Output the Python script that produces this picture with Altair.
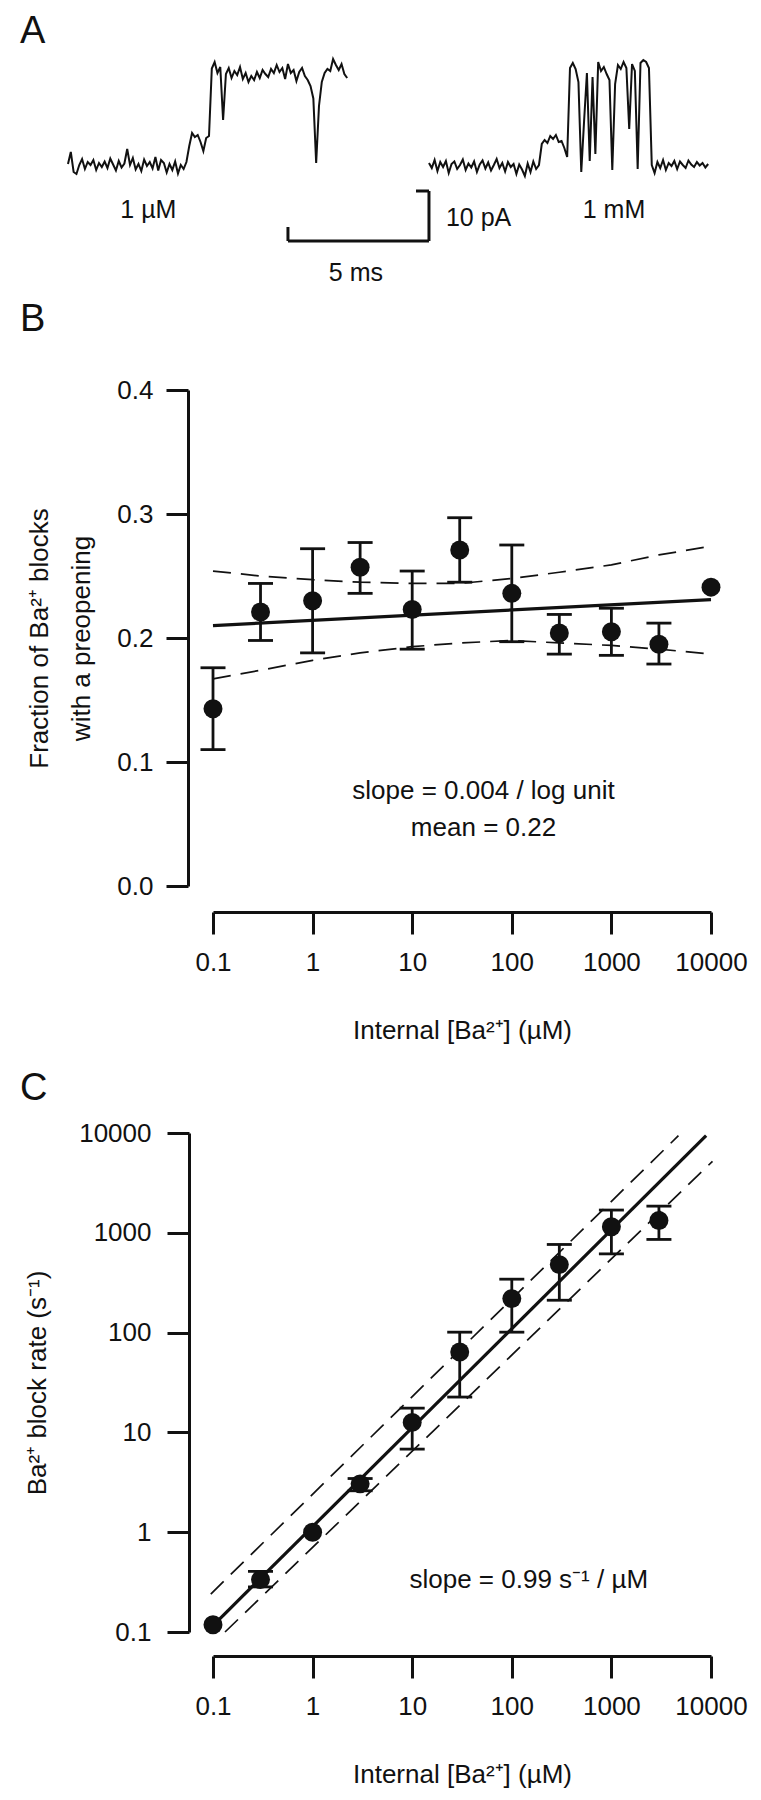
import altair as alt
import pandas as pd

FONT = "Liberation Sans"
INK = "#111111"

# ---------------------------------------------------------------- panel A data
# single-channel current (pA), one sample every 0.1 ms
SAMPLE_MS = 0.1
trace_1um = [
    0.4, 2.8, -1.2, -1.6, 0.2, 1.4, -0.6, 0.8, 0.2, 1.2,
    -0.8, 0.6, -0.2, 0.9, -0.4, 1.5, 0.3, -0.9, 1.0, -0.3,
    0.5, 3.4, 0.2, 1.6, -0.7, 0.4, -1.0, 1.3, 0.0, 0.8,
    -0.5, 1.8, -0.9, 1.2, 0.6, -1.3, 0.4, -0.8, 0.9, -1.5,
    0.2, -0.6, 0.8, 4.0, 6.6, 5.8, 6.2, 4.8, 3.0, 5.6,
    6.0, 19.5, 20.8, 18.6, 19.8, 9.2, 18.4, 19.6, 17.6, 19.0,
    18.2, 19.8, 17.4, 18.6, 16.8, 18.0, 17.2, 18.8, 17.6, 19.2,
    18.4, 17.8, 19.4, 18.6, 20.2, 18.8, 19.6, 17.4, 20.4, 18.6,
    19.2, 17.0, 18.8, 19.6, 18.0, 17.2, 16.0, 13.5, 0.6, 12.0,
    16.8, 18.6, 19.4, 19.0, 21.4, 20.2, 19.2, 20.4, 18.4, 17.6,
]
trace_1mm = [
    0.6, -0.4, 1.2, -1.0, 0.8, -0.2, 1.0, -1.4, 0.4, 0.9,
    -0.6, 0.2, 1.3, -0.8, 0.5, -0.3, 0.9, -1.2, 0.3, 1.1,
    -0.5, 0.7, -0.9, 0.2, 1.4, -0.4, 0.6, -1.1, 0.8, -0.2,
    0.4, -1.6, 0.3, -0.7, -2.0, 0.5, -1.2, 0.9, -0.6, 0.2,
    4.4, 5.2, 4.6, 6.0, 5.4, 6.2, 4.8, 5.0, 3.6, 1.8,
    19.6, 20.6, 19.4, 16.8, -1.2, 9.0, 18.6, 1.0, 17.8, 2.4,
    20.8, 19.0, 19.8, 18.4, 17.2, -0.8, 16.4, 20.2, 19.4, 20.8,
    19.6, 7.4, 20.4, 19.0, -0.6, 20.6, 21.2, 20.8, 19.6, 0.2,
    -1.4, 0.8, -0.4, 1.2, -0.8, 0.6, 0.0, 1.0, -0.6, 0.9,
    0.2, -0.4, 1.1, 0.3, -0.2, 0.8, 0.1, 0.6, -0.3, 0.4,
]
trace_names = ["1 µM", "1 mM"]
TRACE_1MM_START_MS = 12.8

# scale bar (5 ms, 10 pA), left end and bottom of the bar
BAR_MS = 5
BAR_PA = 10
BAR_T0 = 7.8
BAR_Y0 = -15.0

# ---------------------------------------------------------------- panel B data
conc_b = [0.1, 0.3, 1, 3, 10, 30, 100, 300, 1000, 3000, 10000]
frac_b = [0.143, 0.221, 0.230, 0.257, 0.223, 0.271, 0.236, 0.204, 0.205, 0.195, 0.241]
err_conc_b = [0.1, 0.3, 1, 3, 10, 30, 100, 300, 1000, 3000]
frac_lo = [0.110, 0.198, 0.188, 0.236, 0.191, 0.245, 0.197, 0.187, 0.186, 0.179]
frac_hi = [0.176, 0.244, 0.272, 0.277, 0.254, 0.297, 0.275, 0.219, 0.224, 0.212]
fit_conc_b = [0.1, 10000]
fit_frac_b = [0.210, 0.231]
band_conc_b = [0.1, 0.3, 1, 3, 10, 30, 100, 300, 1000, 3000, 10000]
band_hi_b = [0.254, 0.250, 0.247, 0.245, 0.244, 0.244, 0.248, 0.253, 0.259, 0.267, 0.274]
band_lo_b = [0.167, 0.174, 0.182, 0.188, 0.193, 0.196, 0.198, 0.196, 0.194, 0.191, 0.187]

# ---------------------------------------------------------------- panel C data
conc_c = [0.1, 0.3, 1, 3, 10, 30, 100, 300, 1000, 3000]
rate_c = [0.118, 0.335, 1.0, 3.05, 12.6, 64, 219, 480, 1150, 1330]
err_conc_c = [0.3, 3, 10, 30, 100, 300, 1000, 3000]
rate_lo = [0.283, 2.6, 6.8, 22.6, 101, 211, 615, 858]
rate_hi = [0.405, 3.45, 17.5, 101, 343, 764, 1690, 1850]
fit_conc_c = [0.1, 8930]
fit_rate_c = [0.116, 9400]
upper_conc_c = [0.095, 4710]
upper_rate_c = [0.24, 9400]
lower_conc_c = [0.132, 10350]
lower_rate_c = [0.1, 5200]

DECADES = [0.1, 1, 10, 100, 1000, 10000]
CONC_TITLE = "Internal [Ba²⁺] (µM)"


def panel_title(letter, offset):
    return alt.TitleParams(
        text=letter, anchor="start", frame="group", dx=-193, offset=offset,
        baseline="alphabetic", fontSize=38, fontWeight="normal", font=FONT, color=INK,
    )


def conc_x(field, axis_offset):
    return alt.X(
        field,
        scale=alt.Scale(type="log", domain=[0.1, 10000], nice=False),
        axis=alt.Axis(
            values=DECADES, format="~g", offset=axis_offset, tickSize=22,
            labelPadding=15, labelFlush=False, labelOverlap=False,
            title=CONC_TITLE, titlePadding=42,
        ),
    )


def frac_y(field):
    return alt.Y(
        field,
        scale=alt.Scale(domain=[0, 0.4], nice=False, zero=False),
        axis=alt.Axis(
            values=[0, 0.1, 0.2, 0.3, 0.4], format=".1f", offset=25, tickSize=22,
            labelPadding=13, labelOverlap=False,
            title=["Fraction of Ba²⁺ blocks", "with a preopening"],
            titleLineHeight=42, titlePadding=22,
        ),
    )


def rate_y(field):
    return alt.Y(
        field,
        scale=alt.Scale(type="log", domain=[0.1, 10000], nice=False),
        axis=alt.Axis(
            values=DECADES, format="~g", offset=24, tickSize=22,
            labelPadding=16, labelOverlap=False,
            title="Ba²⁺ block rate (s⁻¹)", titlePadding=28,
        ),
    )


def error_layers(frame, x_enc, y_fn):
    """Vertical error bar with a cap at each end."""
    bars = alt.Chart(frame).mark_rule(color=INK, strokeWidth=2.8).encode(
        x=x_enc, y=y_fn("lo:Q"), y2="hi:Q"
    )
    caps_frame = frame.melt(id_vars="conc", value_vars=["lo", "hi"], value_name="cap")
    caps = alt.Chart(caps_frame).mark_tick(
        color=INK, opacity=1, orient="horizontal", size=25, thickness=2.8
    ).encode(x=x_enc, y=y_fn("cap:Q"))
    return bars, caps


# ---------------------------------------------------------------- panel A
times = [round(i * SAMPLE_MS, 2) for i in range(len(trace_1um))]
trace_frame = pd.DataFrame({
    "t": times + [round(TRACE_1MM_START_MS + t, 2) for t in times[: len(trace_1mm)]],
    "pA": trace_1um + trace_1mm,
    "trace": [trace_names[0]] * len(trace_1um) + [trace_names[1]] * len(trace_1mm),
})

t_enc = alt.X("t:Q", scale=alt.Scale(domain=[5.142, 22.8], nice=False, zero=False), axis=None)
pa_enc = alt.Y("pA:Q", scale=alt.Scale(domain=[4.6, 22.0], nice=False, zero=False), axis=None)

traces = alt.Chart(trace_frame).mark_line(color=INK, strokeWidth=2).encode(
    x=t_enc, y=pa_enc, detail="trace:N"
)

bar_frame = pd.DataFrame({
    "t": [BAR_T0, BAR_T0 + BAR_MS, BAR_T0 + BAR_MS - 0.46, BAR_T0],
    "t2": [BAR_T0 + BAR_MS, BAR_T0 + BAR_MS, BAR_T0 + BAR_MS, BAR_T0],
    "pA": [BAR_Y0, BAR_Y0, BAR_Y0 + BAR_PA, BAR_Y0],
    "pA2": [BAR_Y0, BAR_Y0 + BAR_PA, BAR_Y0 + BAR_PA, BAR_Y0 + 2.8],
})
scale_bar = alt.Chart(bar_frame).mark_rule(color=INK, strokeWidth=3).encode(
    x=t_enc, x2="t2:Q", y=pa_enc, y2="pA2:Q"
)

label_frame = pd.DataFrame({
    "t": [2.85, 19.36, 10.21],
    "pA": [-8.8, -8.8, -21.4],
    "text": ["1 µM", "1 mM", "5 ms"],
})
labels_a = alt.Chart(label_frame).mark_text(
    font=FONT, fontSize=25, color=INK, align="center", baseline="middle"
).encode(x=t_enc, y=pa_enc, text="text:N")
pa_label = alt.Chart(pd.DataFrame({"t": [13.4], "pA": [-10.4], "text": ["10 pA"]})).mark_text(
    font=FONT, fontSize=25, color=INK, align="left", baseline="middle"
).encode(x=t_enc, y=pa_enc, text="text:N")

panel_a = alt.layer(traces, scale_bar, labels_a, pa_label).properties(
    width=498, height=87, title=panel_title("A", -26)
)

# ---------------------------------------------------------------- panel B
xb = conc_x("conc:Q", 26)
points_b = alt.Chart(pd.DataFrame({"conc": conc_b, "frac": frac_b})).mark_circle(
    size=360, opacity=1, color=INK
).encode(x=xb, y=frac_y("frac:Q"))
bars_b, caps_b = error_layers(
    pd.DataFrame({"conc": err_conc_b, "lo": frac_lo, "hi": frac_hi}), xb, frac_y
)
fit_b = alt.Chart(pd.DataFrame({"conc": fit_conc_b, "frac": fit_frac_b})).mark_line(
    color=INK, strokeWidth=3.2
).encode(x=xb, y=frac_y("frac:Q"))
band_frame_b = pd.DataFrame({
    "conc": band_conc_b + band_conc_b,
    "frac": band_hi_b + band_lo_b,
    "side": ["upper"] * len(band_hi_b) + ["lower"] * len(band_lo_b),
})
band_b = alt.Chart(band_frame_b).mark_line(
    color=INK, strokeWidth=1.7, strokeDash=[18, 10]
).encode(x=xb, y=frac_y("frac:Q"), detail="side:N")
note_b = alt.Chart(pd.DataFrame({
    "conc": [52, 52],
    "frac": [0.077, 0.047],
    "text": ["slope = 0.004 / log unit", "mean = 0.22"],
})).mark_text(font=FONT, fontSize=26, color=INK, baseline="middle").encode(
    x=xb, y=frac_y("frac:Q"), text="text:N"
)

panel_b = alt.layer(band_b, fit_b, bars_b, caps_b, points_b, note_b).properties(
    width=498, height=496, title=panel_title("B", 8)
)

# ---------------------------------------------------------------- panel C
xc = conc_x("conc:Q", 24)
points_c = alt.Chart(pd.DataFrame({"conc": conc_c, "rate": rate_c})).mark_circle(
    size=360, opacity=1, color=INK
).encode(x=xc, y=rate_y("rate:Q"))
bars_c, caps_c = error_layers(
    pd.DataFrame({"conc": err_conc_c, "lo": rate_lo, "hi": rate_hi}), xc, rate_y
)
fit_c = alt.Chart(pd.DataFrame({"conc": fit_conc_c, "rate": fit_rate_c})).mark_line(
    color=INK, strokeWidth=3.2
).encode(x=xc, y=rate_y("rate:Q"))
band_frame_c = pd.DataFrame({
    "conc": upper_conc_c + lower_conc_c,
    "rate": upper_rate_c + lower_rate_c,
    "side": ["upper"] * 2 + ["lower"] * 2,
})
band_c = alt.Chart(band_frame_c).mark_line(
    color=INK, strokeWidth=1.7, strokeDash=[18, 10]
).encode(x=xc, y=rate_y("rate:Q"), detail="side:N")
note_c = alt.Chart(pd.DataFrame({
    "conc": [148], "rate": [0.332], "text": ["slope = 0.99 s⁻¹ / µM"],
})).mark_text(font=FONT, fontSize=26, color=INK, baseline="middle").encode(
    x=xc, y=rate_y("rate:Q"), text="text:N"
)

panel_c = alt.layer(band_c, fit_c, bars_c, caps_c, points_c, note_c).properties(
    width=498, height=499, title=panel_title("C", -18)
)

chart = (
    alt.vconcat(panel_a, panel_b, panel_c, spacing=247, bounds="flush")
    .properties(padding={"left": 12, "top": 5, "right": 5, "bottom": 5})
    .configure_view(stroke=None)
    .configure_axis(
        domainColor=INK, domainWidth=3, tickColor=INK, tickWidth=3, grid=False,
        labelColor=INK, titleColor=INK, labelFont=FONT, titleFont=FONT,
        labelFontSize=26, titleFontSize=26, titleFontWeight="normal",
    )
)

chart.save("out.html", embed_options={"renderer": "svg", "actions": False})
